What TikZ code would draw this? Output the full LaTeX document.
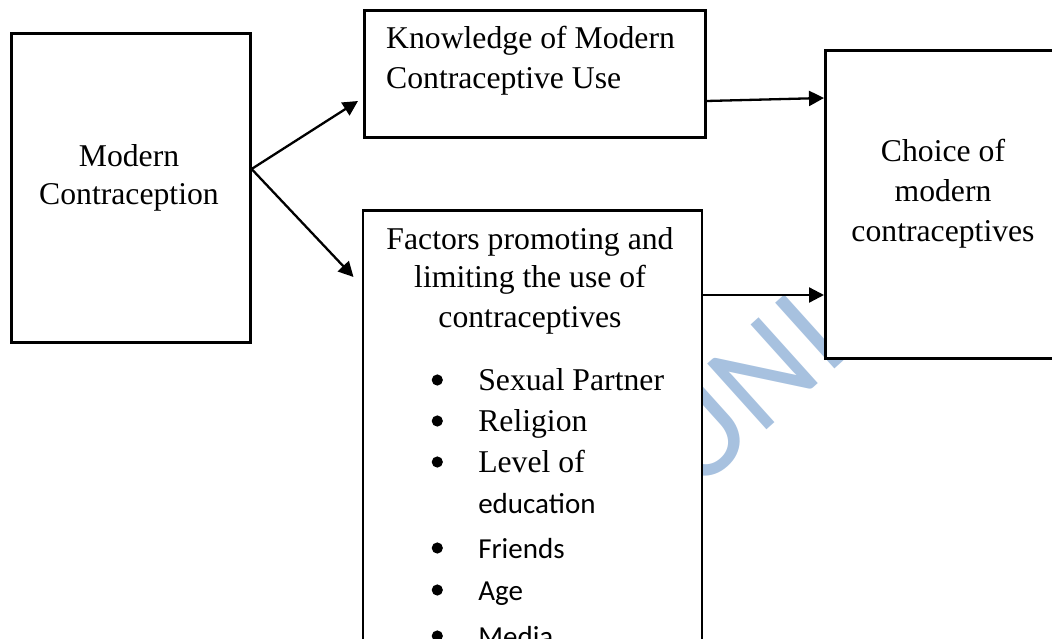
\documentclass[tikz,border=0pt]{standalone}
\usepackage{fontspec}
\setmainfont{Liberation Serif}
\newfontfamily\calib{Carlito}
\usetikzlibrary{arrows.meta}
\definecolor{wm}{RGB}{167,193,223}
\newcommand\mytab[2]{\begin{tabular}[t]{@{}#1@{}}#2\end{tabular}}
\newcommand\cbr[1]{{\calib\fontsize{29}{41}\selectfont #1}}
\newcommand\bul{\tikz[baseline={(0pt,-10pt)}]\fill (0pt,0pt) circle (5.6pt);}
\begin{document}
\begin{tikzpicture}[x=1pt,y=-1pt,
  box/.style={draw, line width=2.6pt, fill=white, inner sep=0pt, anchor=north west},
  txt/.style={inner sep=0pt, anchor=base},
  conn/.style={line width=2.3pt, -{Triangle[length=15pt,width=15pt]}},
  wmark/.style={inner sep=0pt, anchor=base west, text=wm, font=\calib\fontsize{138}{138}\selectfont}]
\useasboundingbox (0,0) rectangle (1052,639);
\clip (0,0) rectangle (1052,639);
% watermark
\node[wmark, rotate=42] (wmk) at (694,496) {UNI};
% boxes
\node[box, minimum width=239pt, minimum height=309pt] (lb) at (10,32) {};
\node[box, minimum width=341pt, minimum height=127pt] (tb) at (363,9) {};
\node[box, minimum width=339pt, minimum height=460pt] (mb) at (361.5,209) {};
\node[box, minimum width=256pt, minimum height=308pt] (rb) at (824,49) {};
% connectors
\draw[conn] ([yshift=-137pt]lb.north east) -- ([xshift=-5pt,yshift=-92pt]tb.north west);
\draw[conn] ([yshift=-137pt]lb.north east) -- ([xshift=-8pt,yshift=-68pt]mb.north west);
\draw[conn] ([yshift=-92pt]tb.north east) -- ([yshift=-49pt]rb.north west);
\draw[conn] ([yshift=-86pt]mb.north east) -- ([yshift=-246pt]rb.north west);
% texts
\node[txt, font=\fontsize{31.7}{38}\selectfont] (lbt) at (129,167) {\mytab{c}{Modern\\Contraception}};
\node[txt, anchor=base west, font=\fontsize{31.7}{40}\selectfont] (tbt) at (386,49) {\mytab{l}{Knowledge of Modern\\Contraceptive Use}};
\node[txt, font=\fontsize{31.7}{40}\selectfont] (rbt) at (943,162) {\mytab{c}{Choice of\\modern\\contraceptives}};
\node[txt, font=\fontsize{31.7}{39}\selectfont] (mbt) at (530,249) {\mytab{c}{Factors promoting and\\limiting the use of\\contraceptives}};
\node[txt, anchor=base west, font=\fontsize{31.7}{41}\selectfont] (list) at (431.5,390) {%
\begin{tabular}[t]{@{}c@{\hspace{35.4pt}}l@{}}
\bul & Sexual Partner\\
\bul & Religion\\
\bul & Level of\\
  & \cbr{education}\\[4pt]
\bul & \cbr{Friends}\\[1pt]
\bul & \cbr{Age}\\[5pt]
\bul & \cbr{Media}
\end{tabular}};
\end{tikzpicture}
\end{document}
